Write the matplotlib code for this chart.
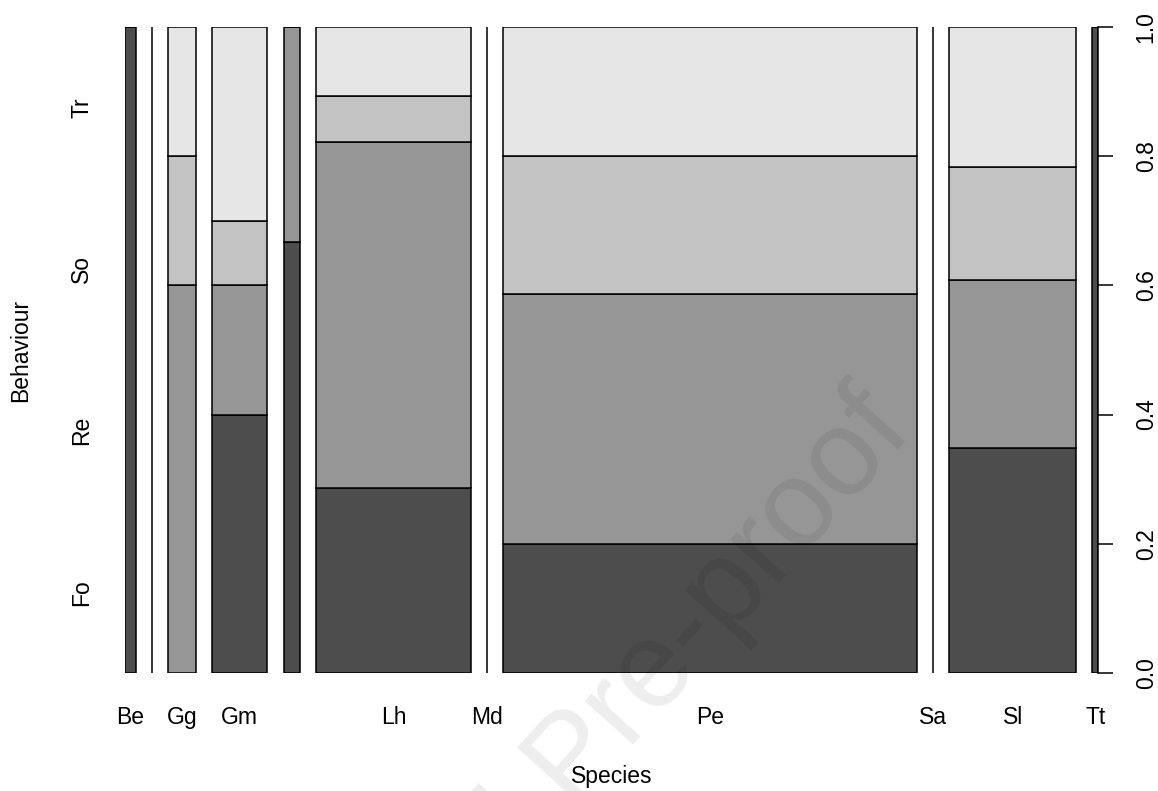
import numpy as np
import matplotlib
matplotlib.use('Agg')
import matplotlib.pyplot as plt

plt.rcParams['font.family'] = ['Liberation Sans', 'DejaVu Sans']

# species in factor order; two levels had their labels dropped (overlap) in the original
species = ['Be', '', 'Gg', 'Gm', '', 'Lh', 'Md', 'Pe', 'Sa', 'Sl', 'Tt']
behaviours = ['Fo', 'Re', 'So', 'Tr']

# counts per species for each behaviour
fo = [2, 0, 0, 4, 2, 8, 0, 15, 0, 8, 1]
re = [0, 0, 3, 2, 1, 15, 0, 29, 0, 6, 0]
so = [0, 0, 1, 1, 0, 2, 0, 16, 0, 4, 0]
tr = [0, 0, 1, 3, 0, 3, 0, 15, 0, 5, 0]

right_ticks = [0.0, 0.2, 0.4, 0.6, 0.8, 1.0]
colors = ['#4D4D4D', '#969696', '#C3C3C3', '#E6E6E6']

tab = np.array([fo, re, so, tr], dtype=float)
tot = tab.sum(axis=0)
off = 0.02
widths = tot / tot.sum()
lefts = np.concatenate([[0], np.cumsum(widths + off)[:-1]])
props = np.divide(tab, tot, out=np.zeros_like(tab), where=tot > 0)
props[0, tot == 0] = 1.0   # empty species -> just a line, like R
bottoms = np.vstack([np.zeros(len(species)), np.cumsum(props, axis=0)[:-1]])

fig = plt.figure(figsize=(11.58, 7.91), dpi=100)
ax = fig.add_axes([0.1079, 0.1492, 0.8403, 0.8167])

for j in range(len(behaviours)):
    ax.bar(lefts, props[j], width=widths, bottom=bottoms[j], align='edge',
           color=colors[j], edgecolor='black', linewidth=1.1)

ax.set_xlim(0, 1 + off * (len(species) - 1))
ax.set_ylim(0, 1)
for s in ax.spines.values():
    s.set_visible(False)

ax.set_xticks(lefts + widths / 2)
ax.set_xticklabels(species, fontsize=16.5)
ax.tick_params(axis='x', length=0, pad=24)

ax.set_yticks([0.125, 0.375, 0.625, 0.875])
ax.set_yticklabels(behaviours, fontsize=16.5, rotation=90, va='center')
ax.tick_params(axis='y', length=0, pad=23)

ax.set_xlabel('Species', fontsize=16.5, labelpad=26)
ax.set_ylabel('Behaviour', fontsize=16.5, labelpad=27.5)

ax2 = ax.twinx()
ax2.set_ylim(0, 1)
for k, s in ax2.spines.items():
    s.set_visible(k == 'right')
ax2.spines['right'].set_linewidth(1.1)
ax2.set_yticks(right_ticks)
ax2.set_yticklabels(['%.1f' % t for t in right_ticks], fontsize=16.5,
                    rotation=90, va='center')
ax2.tick_params(axis='y', length=10.8, width=1.1, pad=15.6)

# faint watermark from the source document
fig.text(914 / 1158, 1 - 432 / 791, 'Journal Pre-proof', fontsize=88,
         rotation=48, rotation_mode='anchor', ha='right', va='baseline',
         color='black', alpha=0.07, zorder=10)

fig.savefig('out.png', dpi=100)
